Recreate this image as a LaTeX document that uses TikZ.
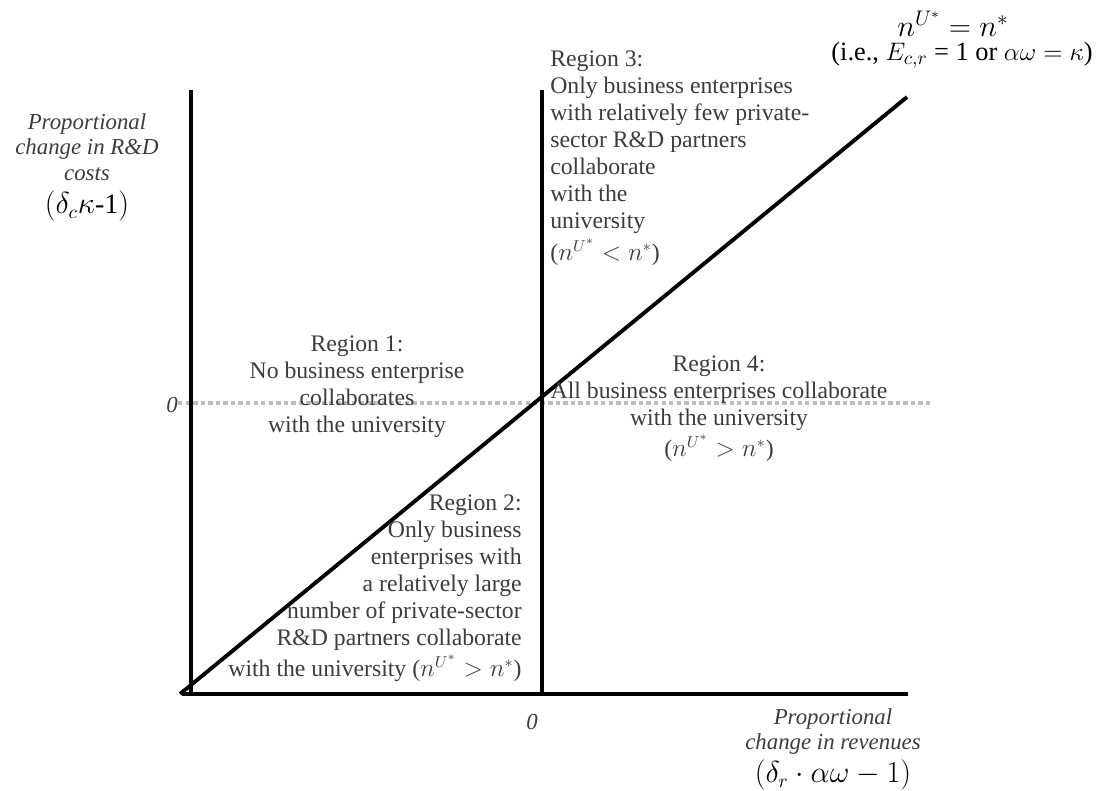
\documentclass[tikz,border=0pt]{standalone}
\usepackage{fontspec}
\setmainfont{Liberation Serif}
\usetikzlibrary{positioning}
\definecolor{txtgray}{HTML}{3C3C3C}
\definecolor{dotgray}{HTML}{BDBDBD}

\begin{document}
\begin{tikzpicture}[x=0.02cm, y=-0.02cm,
      axis/.style={line width=2.2pt, color=black},
      zeroline/.style={line width=2pt, color=dotgray, dash pattern=on 2.5pt off 1.8pt},
      region/.style={inner sep=0pt, text=txtgray, font=\fontsize{13.5}{15.4}\selectfont},
      axlabel/.style={inner sep=0pt, text=txtgray, align=center,
        font=\fontsize{13}{14.6}\selectfont\itshape},
      mlabel/.style={inner sep=0pt, font=\fontsize{16}{18}\selectfont},
      zero/.style={inner sep=0pt, text=txtgray, font=\fontsize{13}{14}\selectfont\itshape}
    ]
      \useasboundingbox (0,0) rectangle (1103,791);
      % axes and lines
      \coordinate (lt) at (191,90);  \coordinate (lb) at (191,694);
      \coordinate (mt) at (542,90);  \coordinate (mb) at (542,694);
      \coordinate (xs) at (182,694); \coordinate (xe) at (908,694);
      \coordinate (ds) at (180,694); \coordinate (de) at (907,97);
      \coordinate (zs) at (178,403); \coordinate (ze) at (930,403);
      \draw[zeroline] (zs)--(ze);
      \draw[axis] (lt)--(lb); \draw[axis] (xs)--(xe);
      \draw[axis] (mt)--(mb); \draw[axis] (ds)--(de);
      % zeros
      \node[zero] (zy) at (172,405) {0};
      \node[zero] (zx) at (532,722) {0};
      % axis labels
      \node[axlabel, anchor=north] (ylab) at (87,113) {Proportional\\change in R\&D\\costs};
      \node[mlabel] (yexp) at (87,206) {$(\delta_{c}\kappa$-1$)$};
      \node[axlabel, anchor=north] (xlab) at (833,708) {Proportional\\change in revenues};
      \node[mlabel] (xexp) at (833,775) {$(\delta_{r}\cdot\alpha\omega-1)$};
      % diagonal label
      \node[mlabel, font=\fontsize{17}{19}\selectfont] (eq) at (953,24) {$n^{U^{*}}=n^{*}$};
      \node[mlabel, font=\fontsize{15}{17}\selectfont] (ie) at (962,55)
        {(i.e., $E_{c,r}$ = 1 or $\alpha\omega=\kappa$)};
      % regions
      \node[region, anchor=north, align=center] (r1) at (357,335)
        {Region 1:\\No business enterprise\\collaborates\\with the university};
      \node[region, anchor=north east, align=right] (r2) at (522,494)
        {Region 2:\\Only business\\enterprises with\\a relatively large\\number of private-sector\\R\&D partners collaborate\\[2.5pt]with the university ($n^{U^{*}}>n^{*}$)};
      \node[region, anchor=north west, align=left] (r3) at (550,50)
        {Region 3:\\Only business enterprises\\with relatively few private-\\sector R\&D partners\\collaborate\\with the\\university\\[3pt]($n^{U^{*}}<n^{*}$)};
      \node[region, anchor=north, align=center] (r4) at (719,355)
        {Region 4:\\All business enterprises collaborate\\with the university\\[2.5pt]($n^{U^{*}}>n^{*}$)};
    \end{tikzpicture}
\end{document}
